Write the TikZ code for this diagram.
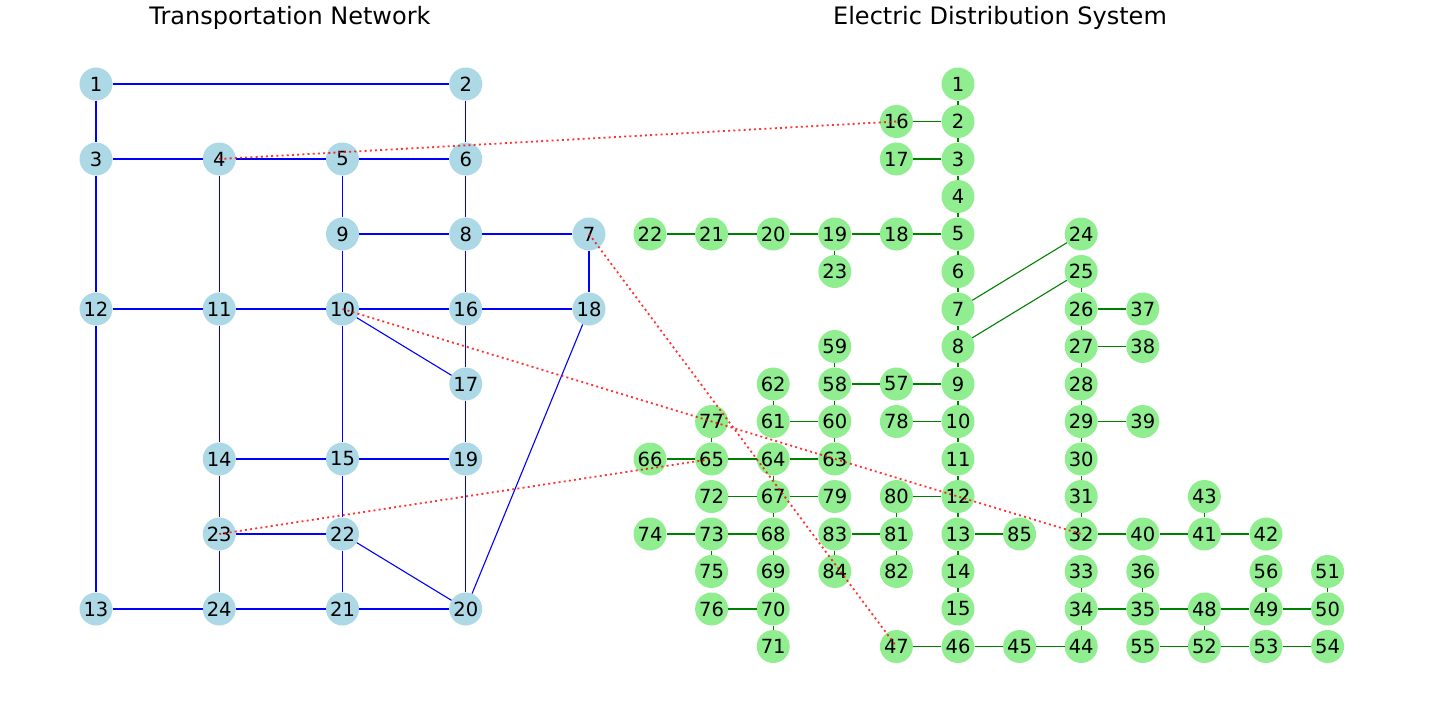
\documentclass[tikz,border=0pt]{standalone}
\usepackage{fontspec}
\setmainfont{DejaVu Sans}
\definecolor{tnode}{HTML}{ADD8E6}
\definecolor{enode}{HTML}{90EE90}
\definecolor{eline}{HTML}{008000}
\definecolor{tline}{HTML}{0000FF}
\begin{document}
\begin{tikzpicture}[x=1pt,y=1pt,
  tn/.style={circle,fill=tnode,draw=none,minimum size=33pt,inner sep=0pt,font=\fontsize{19.5}{22}\selectfont},
  en/.style={circle,fill=enode,draw=none,minimum size=33pt,inner sep=0pt,font=\fontsize{19.5}{22}\selectfont},
  tedge/.style={draw=tline,line width=1.1pt},
  eedge/.style={draw=eline,line width=1.1pt},
  dep/.style={draw=red,opacity=0.8,line width=1.8pt,dash pattern=on 2pt off 3.2pt},
  ttl/.style={font=\fontsize{24}{28}\selectfont}]
\useasboundingbox (0,0) rectangle (1432,-712);
\node[ttl] (title1) at (290,-18) {Transportation Network};
\node[ttl] (title2) at (1000,-18) {Electric Distribution System};
% Transportation network
\begin{scope}[shift={(96pt,-84pt)},x=123.25pt,y=-37.5pt]
\foreach \n/\c/\r in {1/0/0,2/3/0,3/0/2,4/1/2,5/2/2,6/3/2,9/2/4,8/3/4,7/4/4,
  12/0/6,11/1/6,10/2/6,16/3/6,18/4/6,17/3/8,14/1/10,15/2/10,19/3/10,
  23/1/12,22/2/12,13/0/14,24/1/14,21/2/14,20/3/14}
  \node[tn] (t\n) at (\c,\r) {\n};
\end{scope}
\foreach \a/\b in {1/2,1/3,2/6,3/4,4/5,5/6,3/12,4/11,5/9,6/8,9/8,8/7,8/16,9/10,7/18,
  12/11,11/10,10/16,16/18,10/17,16/17,10/15,11/14,12/13,17/19,14/15,15/19,15/22,
  14/23,23/22,23/24,13/24,24/21,22/21,22/20,21/20,19/20,18/20}
  \draw[tedge] (t\a) -- (t\b);
% Electric distribution system
\begin{scope}[shift={(650pt,-84pt)},x=61.6pt,y=-37.5pt]
\foreach \n/\c/\r in {1/5/0,16/4/1,2/5/1,17/4/2,3/5/2,4/5/3,22/0/4,21/1/4,20/2/4,19/3/4,18/4/4,5/5/4,24/7/4,
  23/3/5,6/5/5,25/7/5,7/5/6,26/7/6,37/8/6,59/3/7,8/5/7,27/7/7,38/8/7,
  62/2/8,58/3/8,57/4/8,9/5/8,28/7/8,77/1/9,61/2/9,60/3/9,78/4/9,10/5/9,29/7/9,39/8/9,
  66/0/10,65/1/10,64/2/10,63/3/10,11/5/10,30/7/10,
  72/1/11,67/2/11,79/3/11,80/4/11,12/5/11,31/7/11,43/9/11,
  74/0/12,73/1/12,68/2/12,83/3/12,81/4/12,13/5/12,85/6/12,32/7/12,40/8/12,41/9/12,42/10/12,
  75/1/13,69/2/13,84/3/13,82/4/13,14/5/13,33/7/13,36/8/13,56/10/13,51/11/13,
  76/1/14,70/2/14,15/5/14,34/7/14,35/8/14,48/9/14,49/10/14,50/11/14,
  71/2/15,47/4/15,46/5/15,45/6/15,44/7/15,55/8/15,52/9/15,53/10/15,54/11/15}
  \node[en] (e\n) at (\c,\r) {\n};
\end{scope}
\foreach \a/\b in {1/2,2/16,2/3,3/17,3/4,4/5,5/18,18/19,19/20,20/21,21/22,19/23,
  5/6,6/7,7/24,7/8,8/25,25/26,26/37,26/27,27/38,27/28,28/29,29/39,29/30,30/31,31/32,
  32/40,40/41,41/43,41/42,
  33/34,34/35,35/36,35/48,48/49,49/56,49/50,50/51,34/44,44/45,45/46,46/47,48/52,52/55,52/53,53/54,
  8/9,9/57,57/58,58/59,58/60,60/61,61/62,60/63,63/64,64/65,65/66,65/77,64/67,67/72,67/79,67/68,
  68/73,73/74,73/75,68/69,69/70,70/76,70/71,
  9/10,10/78,10/11,11/12,12/80,80/81,81/83,81/82,83/84,12/13,13/85,13/14,14/15}
  \draw[eedge] (e\a) -- (e\b);
% Interdependencies
\draw[dep] (t4.center) -- (e16.center);
\draw[dep] (t7.center) -- (e47.center);
\draw[dep] (t10.center) -- (e32.center);
\draw[dep] (t23.center) -- (e65.center);
\end{tikzpicture}
\end{document}
